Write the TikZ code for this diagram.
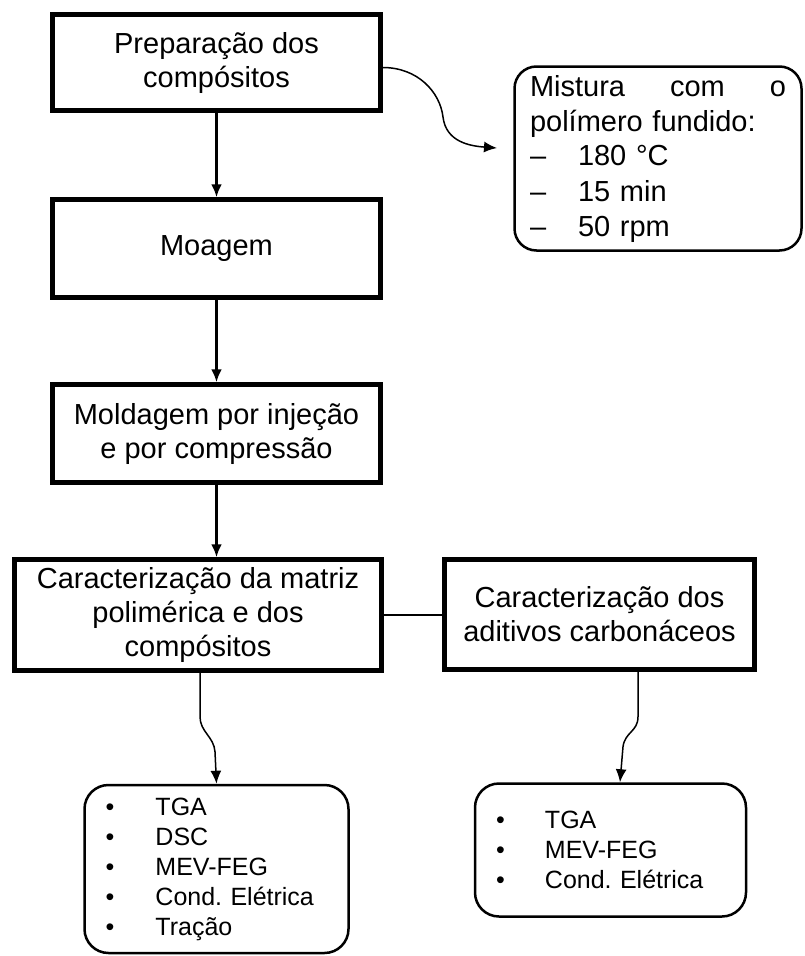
\documentclass[tikz,border=0pt]{standalone}
\usepackage{fontspec}
\setmainfont{Liberation Sans}
\usetikzlibrary{positioning,arrows.meta}
\frenchspacing

\begin{document}
\begin{tikzpicture}[x=1pt,y=-1pt,
proc/.style={
  draw,
  line width=4.5pt,
  inner sep=0pt,
  minimum width=328pt,
  minimum height=98pt,
  align=center,
  font=\fontsize{29}{34}\selectfont
  },
lst/.style={
  draw,
  line width=2.5pt,
  rounded corners=24pt,
  inner ysep=0pt,
  inner xsep=21pt,
  align=left,
  font=\fontsize{25}{30}\selectfont
  },
flow/.style={line width=2.5pt},
wave/.style={line width=1.5pt},
>={Latex[length=13pt,width=11pt]}]
\useasboundingbox (0,0) rectangle (804,956);

\node[proc, minimum height=96pt] (prep) at (216.5,62.5) {Preparação dos\\compósitos};
\node[proc] (moag) at (216.5,248.5) {Moagem};
\node[proc] (mold) at (216.5,433.5) {Moldagem por injeção\\e por compressão};
\node[proc, minimum width=367pt, minimum height=111pt] (carmat) at (198,615) {Caracterização da matriz\\polimérica e dos\\compósitos};
\node[proc, minimum width=310pt, minimum height=110pt] (caradit) at (599.5,614.5) {Caracterização dos\\aditivos carbonáceos};

\node[lst, text width=256pt, inner xsep=15.5pt, minimum height=184pt, rounded corners=22pt,
  font=\fontsize{29}{35}\selectfont] (mist) at (658,158.5)
  {\makebox[256pt][l]{Mistura\hfill com\hfill o}\\polímero fundido:\\
   \makebox[48pt][l]{–}180 °C\\\makebox[48pt][l]{–}15 min\\\makebox[48pt][l]{–}50 rpm};
\node[lst, text width=222pt, minimum height=168pt] (listmat) at (216.5,869)
  {\makebox[50pt][l]{•}TGA\\\makebox[50pt][l]{•}DSC\\\makebox[50pt][l]{•}MEV-FEG\\
   \makebox[50pt][l]{•}Cond. Elétrica\\\makebox[50pt][l]{•}Tração};
\node[lst, text width=229pt, minimum height=133pt] (listadit) at (610.5,850)
  {\makebox[49pt][l]{•}TGA\\\makebox[49pt][l]{•}MEV-FEG\\\makebox[49pt][l]{•}Cond. Elétrica};

\coordinate (mixin) at (497,148);

\draw[flow,->] (prep) -- (moag);
\draw[flow,->] (moag) -- (mold);
\draw[flow,->] (mold.south) -- (mold.south |- carmat.north);
\draw[wave] (carmat.east) -- (carmat.east -| caradit.west);

\draw[wave,->] ([yshift=-5pt]prep.east) .. controls +(35,0) and +(-3,-25) .. (443,117)
  .. controls +(3,25) and +(-27,-2) .. (mixin);
\draw[wave,->] ([xshift=2pt]carmat.south) -- ++(0,44) .. controls +(0,15) and +(-1,-15) .. ++(15,35)
  -- (listmat.north);
\draw[wave,->] ([xshift=38.5pt]caradit.south) -- ++(0,45) .. controls +(0,15) and +(2,-15) .. ++(-15,30)
  -- ([xshift=9.5pt]listadit.north);

\end{tikzpicture}
\end{document}
